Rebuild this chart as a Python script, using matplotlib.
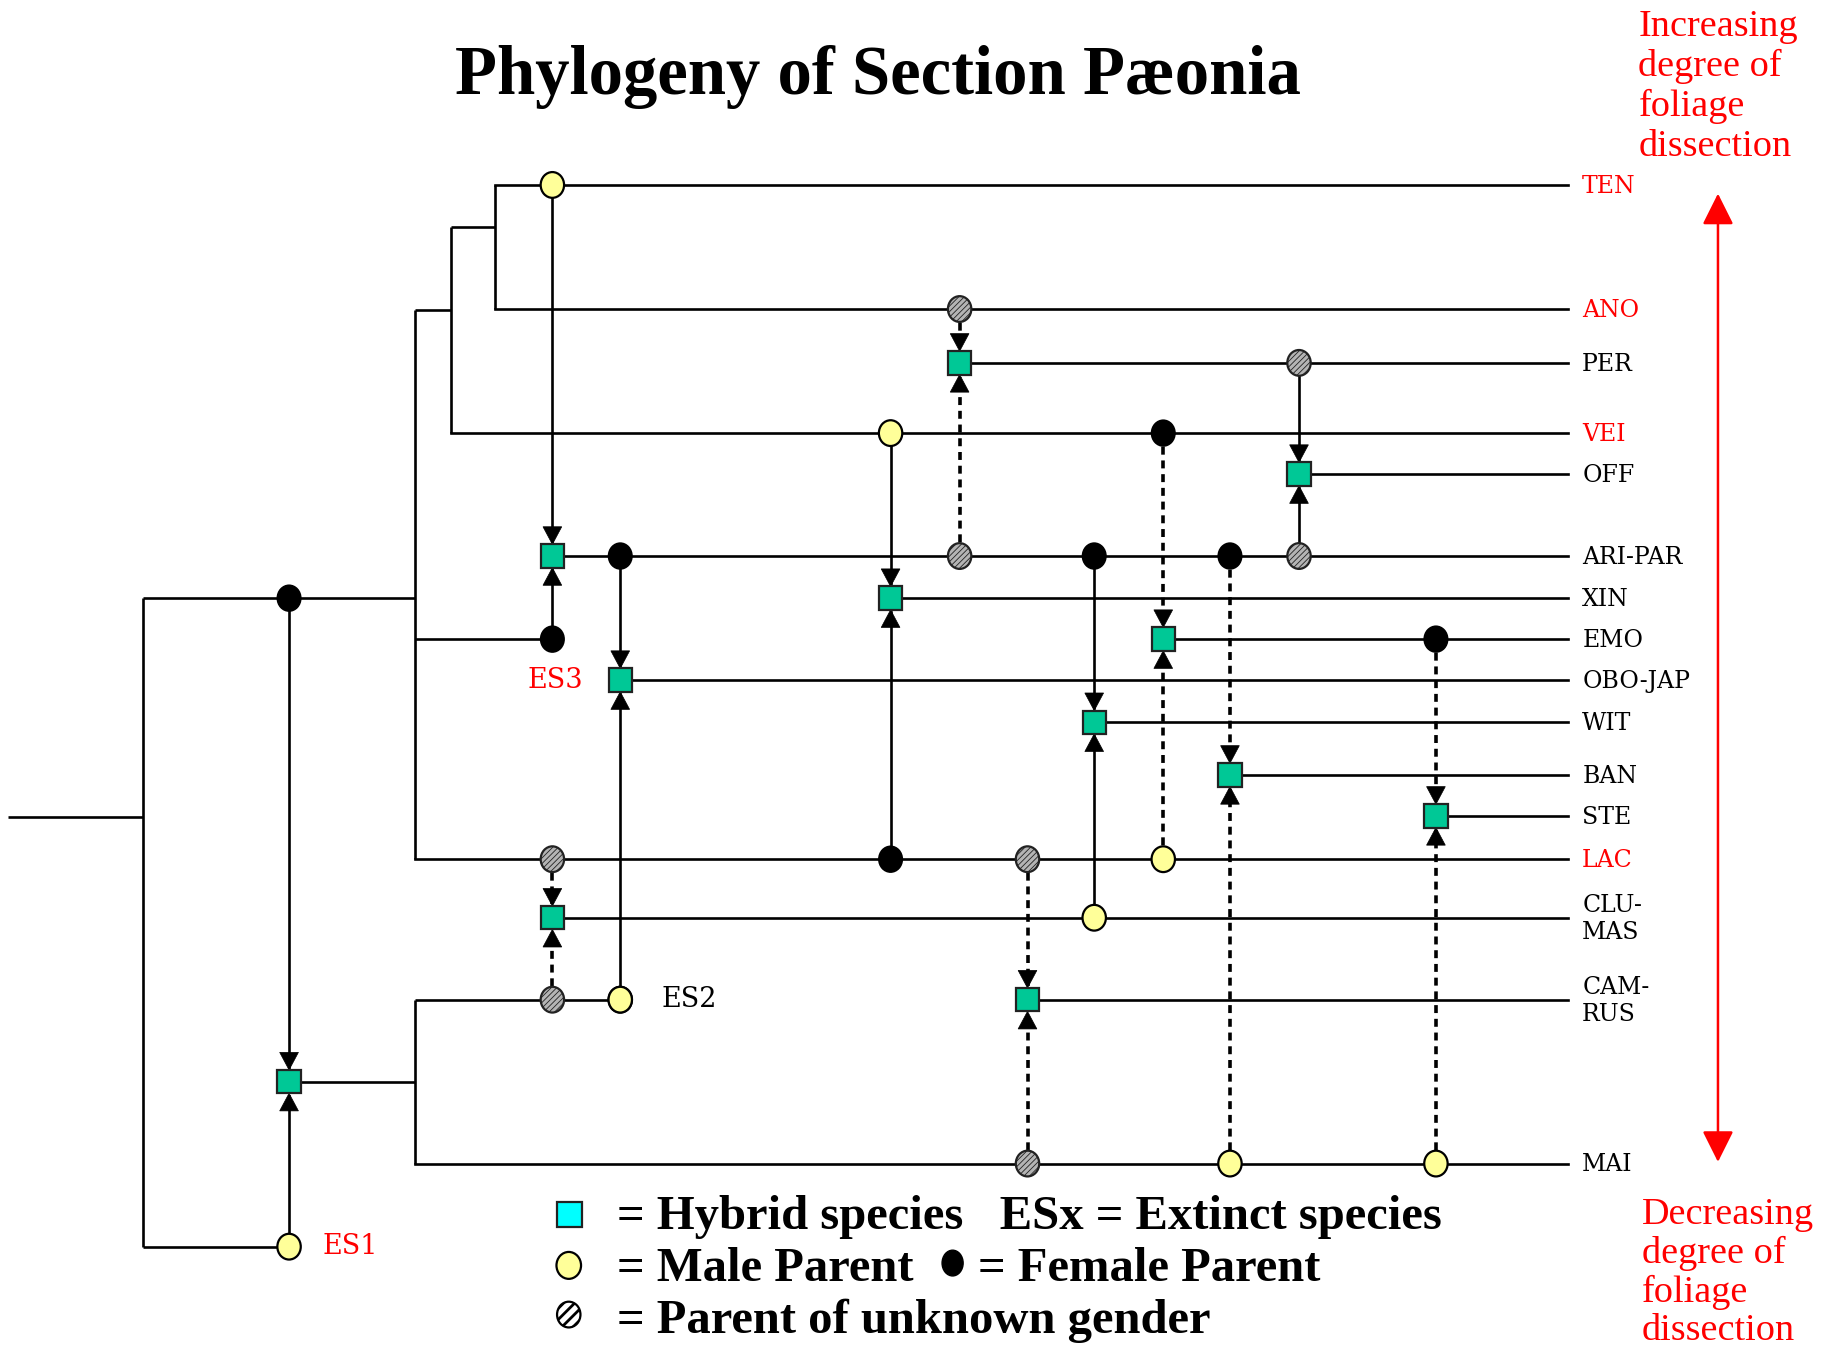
import matplotlib
matplotlib.use('Agg')
import matplotlib.pyplot as plt
from matplotlib.patches import Ellipse, Rectangle, Polygon, FancyArrowPatch

# ================= Data =================
# taxa on the right, with the row (y) where each one sits and where its line starts
taxa = ['TEN', 'ANO', 'PER', 'VEI', 'OFF', 'ARI-PAR', 'XIN', 'EMO', 'OBO-JAP',
        'WIT', 'BAN', 'STE', 'LAC', 'CLU-\nMAS', 'CAM-\nRUS', 'MAI']
taxa_y = [158, 264, 310, 370, 405, 475, 511, 546, 581, 617, 662, 697, 734, 784, 854, 994]
taxa_x0 = [423, 423, 820, 385, 1110, 472, 761, 994, 530, 935, 1051, 1227, 355, 472, 878, 355]
red_taxa = ['TEN', 'ANO', 'VEI', 'LAC']

# backbone of the tree: (x0, y0, x1, y1)
tree_edges = [
    (7, 698, 122, 698), (122, 511, 122, 1065),
    (122, 511, 355, 511), (122, 1065, 247, 1065),
    (247, 924, 355, 924), (355, 854, 355, 994), (355, 854, 530, 854),
    (355, 265, 355, 734), (355, 265, 385, 265), (385, 194, 385, 370),
    (385, 194, 423, 194), (423, 158, 423, 264), (355, 546, 472, 546),
]

# hybrids: x, y, upper parent (y, kind), lower parent (y, kind), dashed link
hyb_x = [472, 530, 472, 820, 761, 1110, 994, 935, 1051, 1227, 878, 247]
hyb_y = [475, 581, 784, 310, 511, 405, 546, 617, 662, 697, 854, 924]
top_y = [158, 475, 734, 264, 370, 310, 370, 475, 475, 546, 734, 511]
top_kind = ['male', 'female', 'unknown', 'unknown', 'male', 'unknown', 'female',
            'female', 'female', 'female', 'unknown', 'female']
bot_y = [546, 854, 854, 475, 734, 475, 734, 784, 994, 994, 994, 1065]
bot_kind = ['female', 'male', 'unknown', 'unknown', 'female', 'unknown', 'male',
            'male', 'male', 'male', 'unknown', 'male']
dashed = [False, False, True, True, False, False, True, False, True, True, True, False]

# extinct species labels
es_labels = ['ES1', 'ES2', 'ES3']
es_pos = [(276, 1065), (565, 854), (498, 581)]
es_colors = ['red', 'black', 'red']

title = 'Phylogeny of Section Pæonia'
top_note = ['Increasing', 'degree of', 'foliage', 'dissection']
bottom_note = ['Decreasing', 'degree of', 'foliage', 'dissection']

# ================= Styling =================
plt.rcParams['hatch.linewidth'] = 0.6
LW = 1.9
SQ_COLOR = '#00c896'
MALE_COLOR = '#ffff99'
UNK_COLOR = '#b4b4b4'
LINE_END = 1340

fig = plt.figure(figsize=(18.35, 13.45), dpi=100)
ax = fig.add_axes([0, 0, 1, 1])
ax.set_xlim(0, 1568)
ax.set_ylim(1149, 0)
ax.axis('off')


def parent_dot(x, y, kind, z=5):
    if kind == 'female':
        p = Ellipse((x, y), 20, 22, facecolor='black', edgecolor='black', lw=1.2, zorder=z)
    elif kind == 'male':
        p = Ellipse((x, y), 20, 22, facecolor=MALE_COLOR, edgecolor='black', lw=1.6, zorder=z)
    else:
        p = Ellipse((x, y), 20, 22, facecolor=UNK_COLOR, edgecolor='#222222', lw=1.6,
                    hatch='//////', zorder=z)
    ax.add_patch(p)


def hybrid_box(x, y, color=SQ_COLOR):
    ax.add_patch(Rectangle((x - 10, y - 10), 20, 20, facecolor=color,
                           edgecolor='#222222', lw=1.6, zorder=6))


def head(x, tip_y, direction):
    # direction +1: pointing down, -1: pointing up
    h, w = 15, 8
    ax.add_patch(Polygon([(x, tip_y), (x - w, tip_y - direction * h), (x + w, tip_y - direction * h)],
                         closed=True, facecolor='black', edgecolor='black', lw=0.5, zorder=6))


# tree
for x0, y0, x1, y1 in tree_edges:
    ax.plot([x0, x1], [y0, y1], color='black', lw=LW, zorder=2, solid_capstyle='butt')

# taxa lines and labels
for name, y, x0 in zip(taxa, taxa_y, taxa_x0):
    ax.plot([x0, LINE_END], [y, y], color='black', lw=LW, zorder=2)
    col = 'red' if name in red_taxa else 'black'
    ax.text(1352, y + 1, name, color=col, fontsize=17, family='DejaVu Serif',
            va='center', ha='left', linespacing=1.25)

# hybrid links
for x, y, ty, tk, by, bk, d in zip(hyb_x, hyb_y, top_y, top_kind, bot_y, bot_kind, dashed):
    ls = (0, (2.2, 1.6)) if d else '-'
    lw = 2.6 if d else LW
    ax.plot([x, x], [ty, y - 12], color='black', lw=lw, ls=ls, zorder=3)
    ax.plot([x, x], [by, y + 12], color='black', lw=lw, ls=ls, zorder=3)
    head(x, y - 10, 1)
    head(x, y + 10, -1)
    hybrid_box(x, y)
    parent_dot(x, ty, tk)
    parent_dot(x, by, bk)

# ES2 male parent (sits on the ES2 branch)
parent_dot(530, 854, 'male')

for lab, (x, y), c in zip(es_labels, es_pos, es_colors):
    ax.text(x, y, lab, color=c, fontsize=19.5, family='DejaVu Serif',
            va='center', ha='right' if lab == 'ES3' else 'left')

# title
ax.text(750, 66, title, fontsize=49.5, fontweight='bold', family='Liberation Serif',
        ha='center', va='center')

# red double arrow with notes
ax.add_patch(FancyArrowPatch((1468, 995), (1468, 163), arrowstyle='<|-|>,head_length=12,head_width=6',
                             color='red', lw=1.8, mutation_scale=1.6, zorder=4))
for i, s in enumerate(top_note):
    ax.text(1400, 31 + i * 34, s, color='red', fontsize=27.5, family='Liberation Serif',
            ha='left', va='baseline')
for i, s in enumerate(bottom_note):
    ax.text(1403, 1046 + i * 33, s, color='red', fontsize=27.5, family='Liberation Serif',
            ha='left', va='baseline')

# legend
leg_fs = 35
ax.add_patch(Rectangle((476, 1027), 21, 21, facecolor='#00ffff', edgecolor='#222222', lw=1.6))
ax.text(527, 1040, '= Hybrid species   ESx = Extinct species', fontsize=leg_fs,
        fontweight='bold', family='Liberation Serif', va='center')
ax.add_patch(Ellipse((486, 1081), 21, 23, facecolor=MALE_COLOR, edgecolor='black', lw=1.6))
ax.text(527, 1084, '= Male Parent', fontsize=leg_fs, fontweight='bold',
        family='Liberation Serif', va='center')
ax.add_patch(Ellipse((814, 1079), 18, 22, facecolor='black', edgecolor='black'))
ax.text(836, 1084, '= Female Parent', fontsize=leg_fs, fontweight='bold',
        family='Liberation Serif', va='center')
plt.rcParams['hatch.linewidth'] = 2.0
ax.add_patch(Ellipse((486, 1123), 20, 22, facecolor='white', edgecolor='black', lw=1.6, hatch='///'))
ax.text(527, 1128, '= Parent of unknown gender', fontsize=leg_fs, fontweight='bold',
        family='Liberation Serif', va='center')

fig.savefig('out.png', dpi=100)
